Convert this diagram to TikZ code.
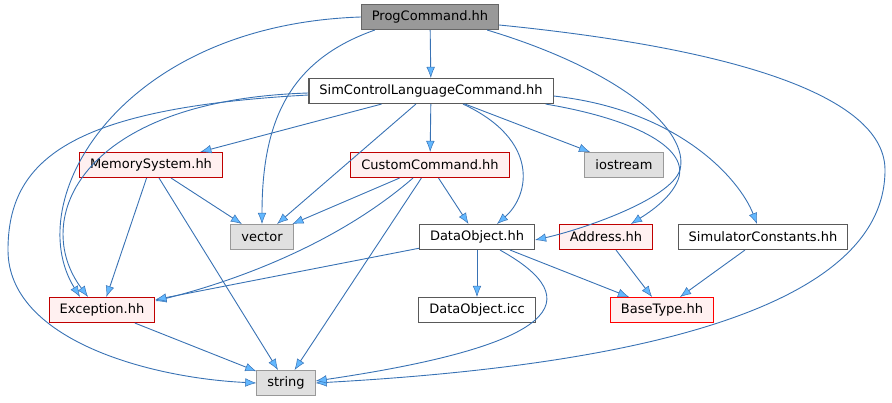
\documentclass[tikz,border=0pt]{standalone}
\usepackage{fontspec}
\setmainfont{DejaVu Sans}
\usetikzlibrary{arrows.meta,calc}
\definecolor{edgeblue}{HTML}{3872B4}
\definecolor{tipblue}{HTML}{63B8FF}
\definecolor{redfill}{HTML}{FFF0F0}
\definecolor{darkred}{HTML}{C00000}
\definecolor{extfill}{HTML}{E0E0E0}
\begin{document}
\begin{tikzpicture}[x=1pt,y=-1pt,
  file/.style={draw=#1,line width=1.1pt,minimum height=25pt,inner xsep=10.5pt,inner ysep=0pt,
    font=\fontsize{13}{15}\selectfont},
  plain/.style={file=black!65,fill=white},
  hdr/.style={file=darkred,fill=redfill},
  sys/.style={file=black!40,fill=extfill},
  edge/.style={draw=edgeblue,line width=0.9pt,-{Latex[length=11pt,width=8.5pt,fill=tipblue,line width=0.5pt]}}]
\useasboundingbox (0,0) rectangle (892,403);
% nodes
\node[file=black!60,fill=black!40] (prog) at (430,17) {ProgCommand.hh};
\node[plain] (simctl) at (431,91) {SimControlLanguageCommand.hh};
\node[hdr] (memsys) at (151,165) {MemorySystem.hh};
\node[hdr] (custom) at (430,165) {CustomCommand.hh};
\node[sys] (iostream) at (624,165) {iostream};
\node[sys] (vector) at (262,237) {vector};
\node[plain] (dataobj) at (477,237) {DataObject.hh};
\node[hdr] (address) at (606,237) {Address.hh};
\node[plain] (simconst) at (763,237) {SimulatorConstants.hh};
\node[hdr] (exc) at (102,310) {Exception.hh};
\node[plain] (icc) at (477,310) {DataObject.icc};
\node[file=red,fill=redfill] (basetype) at (662,310) {BaseType.hh};
\node[sys] (string) at (286,383) {string};
% ProgCommand.hh
\draw[edge] (prog) -- (simctl);
\draw[edge] ($(prog.south west)+(14,0)$) .. controls (290,60) and (262,120) .. (vector.north);
\draw[edge] (prog.west) .. controls (120,25) and (20,200) .. ($(exc.north)+(-22,0)$);
\draw[edge] ($(prog.south east)+(-12,0)$) .. controls (620,70) and (690,130) .. (680,170)
  .. controls (670,200) and (580,230) .. ($(dataobj.east)+(0,3)$);
\draw[edge] ($(prog.east)+(0,8)$) .. controls (750,50) and (885,100) .. (885,170)
  .. controls (885,330) and (550,370) .. (string.east);
% SimControlLanguageCommand.hh
\draw[edge] (simctl) -- (memsys);
\draw[edge] (simctl) -- (custom);
\draw[edge] (simctl) -- (iostream);
\draw[edge] (simctl) -- (vector);
\draw[edge] ($(simctl.south)+(32,0)$) .. controls (540,140) and (530,195) .. ($(dataobj.north)+(20,0)$);
\draw[edge] ($(simctl.south east)+(-8,0)$) .. controls (640,120) and (690,150) .. (678,180)
  .. controls (670,200) and (645,215) .. ($(address.north)+(25,0)$);
\draw[edge] ($(simctl.east)+(0,5)$) .. controls (680,110) and (740,180) .. ($(simconst.north)+(-6,0)$);
\draw[edge] ($(simctl.west)+(0,2)$) .. controls (80,100) and (30,220) .. ($(exc.north)+(-14,0)$);
\draw[edge] ($(simctl.west)+(0,4)$) .. controls (70,108) and (8,160) .. (8,250)
  .. controls (8,340) and (150,378) .. (string.west);
% MemorySystem.hh
\draw[edge] (memsys) -- (vector);
\draw[edge] (memsys) -- (exc);
\draw[edge] (memsys) -- (string);
% CustomCommand.hh
\draw[edge] (custom) -- (vector);
\draw[edge] (custom) -- (dataobj);
\draw[edge] ($(custom.south)+(-17,0)$) .. controls (330,250) and (220,285) .. ($(exc.east)+(0,-9)$);
\draw[edge] (custom) -- (string);
% DataObject.hh
\draw[edge] (dataobj) -- (exc);
\draw[edge] (dataobj) -- (icc);
\draw[edge] (dataobj) -- (basetype);
\draw[edge] ($(dataobj.south)+(23,0)$) .. controls (590,300) and (560,345) .. ($(string.east)+(0,-2)$);
% the rest
\draw[edge] (address) -- (basetype);
\draw[edge] (simconst) -- (basetype);
\draw[edge] (exc) -- (string);
\end{tikzpicture}
\end{document}
